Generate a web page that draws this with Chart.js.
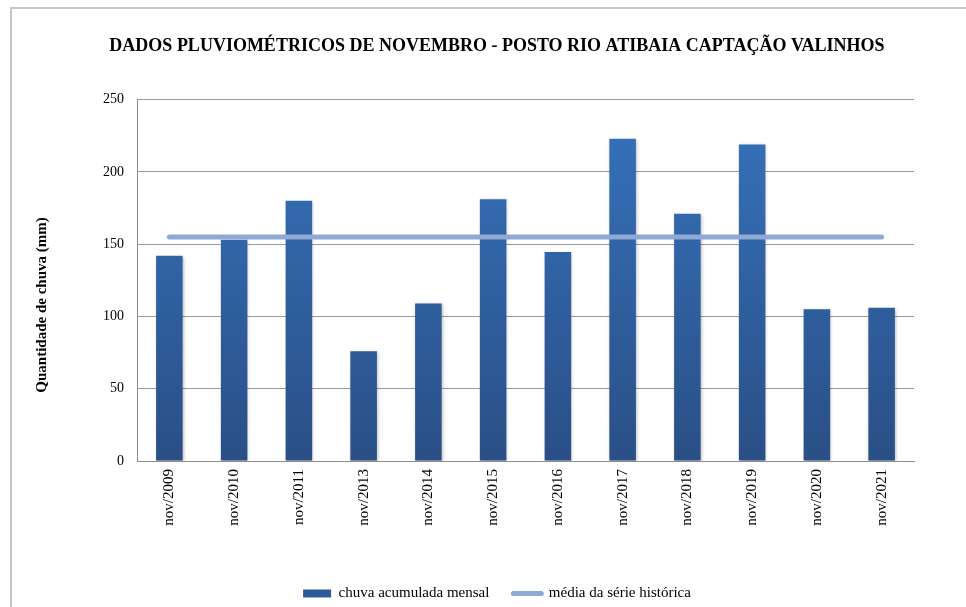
<!DOCTYPE html>
<html>
<head>
<meta charset="utf-8">
<script src="https://cdn.jsdelivr.net/npm/chart.js@4/dist/chart.umd.min.js"></script>
<style>
    html, body { margin: 0; padding: 0; background: #fff; }
    #wrap { position: relative; width: 966px; height: 607px; overflow: hidden; }
    #frame { position: absolute; left: 10px; top: 7px; width: 990px; height: 640px;
             border-left: 2px solid #c6c6c6; border-top: 2px solid #c6c6c6; }
    #chart { position: absolute; left: 0; top: 0; }
</style>
</head>
<body>
<div id="wrap">
    <div id="frame"></div>
    <canvas id="chart" width="966" height="607"></canvas>
</div>
<script>
// Chart data
const categorias = ["nov/2009", "nov/2010", "nov/2011", "nov/2013", "nov/2014", "nov/2015",
                    "nov/2016", "nov/2017", "nov/2018", "nov/2019", "nov/2020", "nov/2021"];
const chuvaMensal = [142, 153, 180, 76, 109, 181, 144.5, 223, 171, 219, 105, 106];
const mediaHistorica = [155, 155, 155, 155, 155, 155, 155, 155, 155, 155, 155, 155];
const yTicks = [0, 50, 100, 150, 200, 250];
const yTitle = 'Quantidade de chuva (mm)';

const serif = "'Liberation Serif', 'DejaVu Serif', serif";

function barGradient(context) {
    const chart = context.chart;
    const area = chart.chartArea;
    if (!area) return '#2f62a6';
    const g = chart.ctx.createLinearGradient(0, area.top, 0, area.bottom);
    g.addColorStop(0, '#3673bd');
    g.addColorStop(1, '#2a4f86');
    return g;
}

// soft shadow behind the bars
const barShadow = {
    id: 'barShadow',
    beforeDatasetDraw(chart, args) {
        if (args.index !== 0) return;
        chart.ctx.save();
        chart.ctx.shadowColor = 'rgba(0,0,0,0.25)';
        chart.ctx.shadowBlur = 3;
        chart.ctx.shadowOffsetX = 1;
        chart.ctx.shadowOffsetY = 1;
    },
    afterDatasetDraw(chart, args) {
        if (args.index !== 0) return;
        chart.ctx.restore();
    }
};

// y axis title sits a bit lower than the chart-area middle in the original
const yTitlePlugin = {
    id: 'yTitlePlugin',
    afterDraw(chart) {
        const c = chart.ctx;
        c.save();
        c.translate(42, 305);
        c.rotate(-Math.PI / 2);
        c.font = "bold 15px " + serif;
        c.fillStyle = '#000';
        c.textAlign = 'center';
        c.textBaseline = 'middle';
        c.fillText(yTitle, 0, 0);
        c.restore();
    }
};

const ctx = document.getElementById('chart').getContext('2d');
new Chart(ctx, {
    type: 'bar',
    data: {
        labels: categorias,
        datasets: [
            {
                type: 'bar',
                label: 'chuva acumulada mensal',
                data: chuvaMensal,
                backgroundColor: barGradient,
                categoryPercentage: 0.82,
                barPercentage: 0.5,
                order: 2
            },
            {
                type: 'line',
                label: 'média da série histórica',
                data: mediaHistorica,
                borderColor: '#8eaad4',
                borderWidth: 5,
                borderCapStyle: 'round',
                pointRadius: 0,
                fill: false,
                order: 1
            }
        ]
    },
    plugins: [barShadow, yTitlePlugin],
    options: {
        responsive: false,
        animation: false,
        layout: { padding: { left: 80, right: 52, top: 32, bottom: -4 } },
        plugins: {
            tooltip: { enabled: false },
            title: {
                display: true,
                text: 'DADOS PLUVIOMÉTRICOS DE NOVEMBRO - POSTO RIO ATIBAIA CAPTAÇÃO VALINHOS',
                color: '#000',
                font: { family: serif, size: 18, weight: 'bold' },
                padding: { top: 4, bottom: 42 }
            },
            legend: {
                position: 'bottom',
                labels: {
                    color: '#000',
                    font: { family: serif, size: 15 },
                    usePointStyle: true,
                    pointStyleWidth: 28,
                    boxHeight: 8,
                    padding: 24,
                    generateLabels(chart) {
                        return [
                            { text: 'chuva acumulada mensal', pointStyle: 'rect', fillStyle: '#2d5a99',
                              strokeStyle: '#2d5a99', lineWidth: 0, datasetIndex: 0, fontColor: '#000' },
                            { text: 'média da série histórica', pointStyle: 'line', fillStyle: '#8eaad4',
                              strokeStyle: '#8eaad4', lineWidth: 5, lineCap: 'round', datasetIndex: 1, fontColor: '#000' }
                        ];
                    }
                }
            }
        },
        scales: {
            x: {
                grid: { display: false, drawTicks: false },
                border: { display: true, color: '#8c8c8c', width: 1 },
                ticks: {
                    color: '#000',
                    font: { family: serif, size: 15 },
                    minRotation: 90,
                    maxRotation: 90,
                    padding: 8
                },
                afterFit(scale) { scale.height = 101; }
            },
            y: {
                min: 0,
                max: 250,
                afterBuildTicks(scale) { scale.ticks = yTicks.map(v => ({ value: v })); },
                grid: { color: '#9a9a9a', drawTicks: false, lineWidth: 1 },
                border: { display: true, color: '#8c8c8c', width: 1 },
                ticks: {
                    color: '#000',
                    font: { family: serif, size: 14 },
                    padding: 13
                },
                afterFit(scale) { scale.width = 57; }
            }
        }
    }
});
</script>
</body>
</html>
